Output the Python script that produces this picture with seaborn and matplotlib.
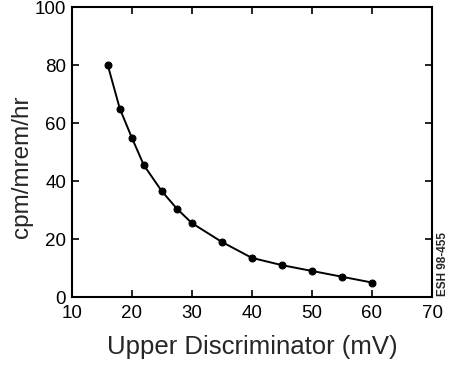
import matplotlib
matplotlib.use("Agg")
import matplotlib.pyplot as plt
import seaborn as sns
import pandas as pd

upper_disc = [16, 18, 20, 22, 25, 27.5, 30, 35, 40, 45, 50, 55, 60]
cpm_per_mrem = [80, 65, 55, 45.5, 36.5, 30.5, 25.5, 19, 13.5, 11, 9, 7, 5]
x_ticks = [10, 20, 30, 40, 50, 60, 70]
y_ticks = [0, 20, 40, 60, 80, 100]

sns.set_style("ticks")
plt.rcParams['font.family'] = ['Liberation Sans', 'DejaVu Sans']

df = pd.DataFrame({"x": upper_disc, "y": cpm_per_mrem})

fig = plt.figure(figsize=(4.51, 3.69), dpi=100)
ax = fig.add_axes([0.159, 0.195, 0.799, 0.786])
sns.lineplot(data=df, x="x", y="y", ax=ax, color="black", linewidth=1.4,
             marker="o", markersize=5, markeredgecolor="black")

ax.set_xlim(10, 70)
ax.set_ylim(0, 100)
ax.set_xticks(x_ticks)
ax.set_yticks(y_ticks)
ax.tick_params(direction="in", length=5, width=1.2, top=True, right=True,
               labelsize=13.5, colors="black")
ax.tick_params(axis="x", pad=6)
ax.tick_params(axis="y", pad=4)
for s in ax.spines.values():
    s.set_linewidth(1.5)
    s.set_color("black")
ax.set_xlabel("Upper Discriminator (mV)", fontsize=18.5, labelpad=9)
ax.set_ylabel("cpm/mrem/hr", fontsize=17.5, va="center")
ax.yaxis.set_label_coords(-0.138, 0.45)

fig.text(0.982, 0.197, "ESH 98-455", rotation=90, fontsize=8.5, fontweight="bold",
         ha="center", va="bottom")

fig.savefig("out.png", dpi=100)
